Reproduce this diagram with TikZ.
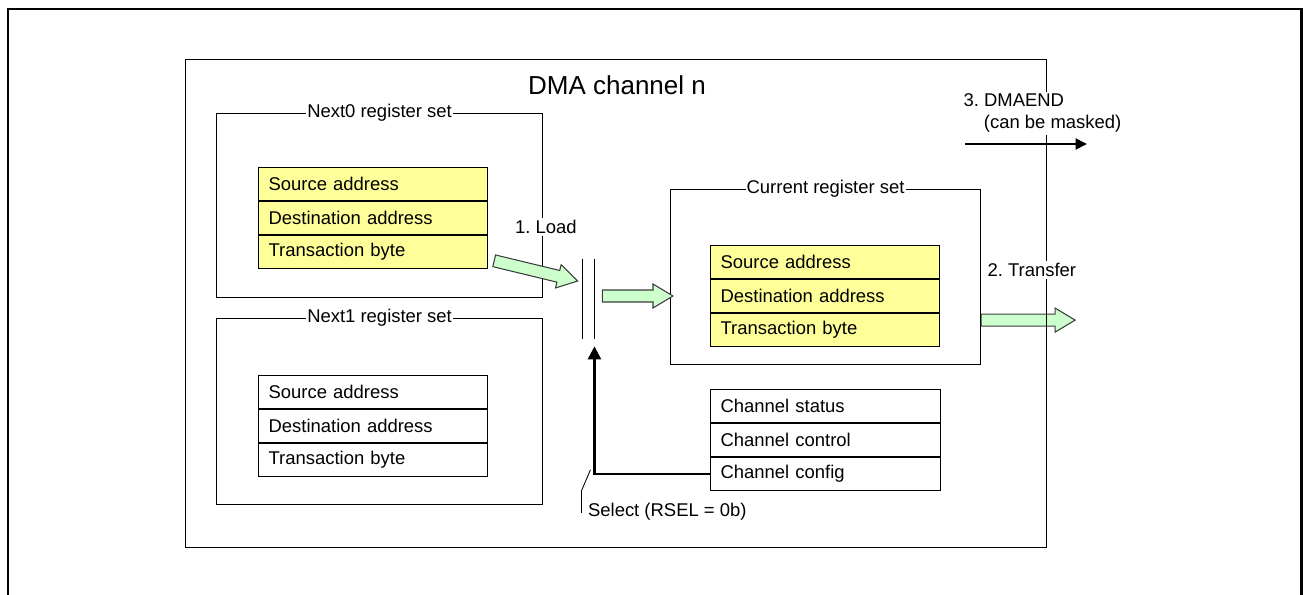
\documentclass[tikz,border=0pt]{standalone}
\usepackage{fontspec}
\setmainfont{Liberation Sans}
\usetikzlibrary{
  arrows.meta,
  positioning,
  calc,
  backgrounds
}
\definecolor{DMAYellow}{HTML}{FFFF99}
\definecolor{DMAGreen}{HTML}{CCFFCC}
\definecolor{DMAEdge}{HTML}{3C3C3C}
\newcommand{\regfont}{\fontsize{10.5}{12.6}\selectfont}
\newcommand{\titlefont}{\fontsize{14.8}{17.8}\selectfont}
\frenchspacing
\tikzset{
  setbox/.style={
    draw,
    line width=0.7pt,
    inner sep=0pt,
    anchor=north west
  },
  settag/.style={
    fill=white,
    inner xsep=0.6pt,
    inner ysep=1pt
  },
  regrow/.style={
    draw,
    line width=0.7pt,
    fill=DMAYellow,
    text width=4.18cm,
    inner xsep=0.2cm,
    inner ysep=0pt,
    minimum height=0.654cm,
    align=left
  },
  plainrow/.style={regrow,fill=white},
  steptag/.style={
    fill=white,
    inner sep=1pt,
    align=left
  },
  loadarrow/.style={
    draw=DMAEdge,
    fill=DMAGreen,
    line width=0.6pt
  },
  selarrow/.style={
    -{Triangle[length=0.26cm,width=0.26cm]},
    line width=1.4pt
  },
  endarrow/.style={
    -{Triangle[length=0.23cm,width=0.22cm]},
    line width=1.1pt
  },
  callout/.style={line width=0.5pt},
  switchline/.style={line width=0.6pt}
}
\newcommand{\fatarrow}[2]{%
  \coordinate (fa-s) at #1;
  \coordinate (fa-t) at #2;
  \coordinate (fa-h) at ($(fa-t)!0.4cm!(fa-s)$);
  \draw[loadarrow]
    ($(fa-s)!0.12cm!90:(fa-t)$) -- ($(fa-h)!0.12cm!90:(fa-t)$)
    -- ($(fa-h)!0.24cm!90:(fa-t)$) -- (fa-t)
    -- ($(fa-h)!0.24cm!-90:(fa-t)$) -- ($(fa-h)!0.12cm!-90:(fa-t)$)
    -- ($(fa-s)!0.12cm!-90:(fa-t)$) -- cycle;
}

\begin{document}
\frenchspacing
\begin{tikzpicture}[x=0.02cm,y=-0.02cm,font=\regfont]
  \useasboundingbox (0,0) rectangle (1303,595);
  \draw[line width=1.7pt] (8,595) -- (8,9) -- (1301,9) -- (1301,595);

  \node[setbox,minimum width=17.22cm,minimum height=9.76cm] (dma) at (185,59) {};
  \node[font=\titlefont] (title) at (617,85) {DMA channel n};

  % Next0
  \node[setbox,minimum width=6.52cm,minimum height=3.68cm] (next0) at (216,113) {};
  \node[settag] (next0tag) at (next0.north) {Next0 register set};
  \node[regrow,anchor=north west] (n0s) at (258,167) {Source address};
  \node[regrow,below=0pt of n0s] (n0d) {Destination address};
  \node[regrow,below=0pt of n0d] (n0t) {Transaction byte};

  % Next1
  \node[setbox,minimum width=6.52cm,minimum height=3.72cm] (next1) at (216,318) {};
  \node[settag] (next1tag) at (next1.north) {Next1 register set};
  \node[plainrow,anchor=north west] (n1s) at (258,375) {Source address};
  \node[plainrow,below=0pt of n1s] (n1d) {Destination address};
  \node[plainrow,below=0pt of n1d] (n1t) {Transaction byte};

  % Current
  \node[setbox,minimum width=6.2cm,minimum height=3.5cm] (cur) at (670,189) {};
  \node[settag] (curtag) at (cur.north) {Current register set};
  \node[regrow,anchor=north west] (cs) at (710,245) {Source address};
  \node[regrow,below=0pt of cs] (cd) {Destination address};
  \node[regrow,below=0pt of cd] (ct) {Transaction byte};

  % channel registers
  \node[plainrow,text width=4.2cm,anchor=north west] (cst) at (710,389) {Channel status};
  \node[plainrow,text width=4.2cm,below=0pt of cst] (cct) {Channel control};
  \node[plainrow,text width=4.2cm,below=0pt of cct] (ccf) {Channel config};

  % register select switch
  \node[minimum width=0.22cm,minimum height=1.6cm,inner sep=0pt] (sw) at (588.6,299) {};
  \draw[switchline] (sw.north west) -- (sw.south west);
  \draw[switchline] (sw.north east) -- (sw.south east);

  \fatarrow{($(n0t.east)+(6,9)$)}{($(sw.west)+(-5,-18)$)}
  \coordinate (ld2) at ($(sw.east)+(8,-3)$);
  \fatarrow{(ld2)}{($(cur.west |- ld2)+(3,0)$)}
  \begin{scope}[on background layer]
    \coordinate (xferend) at ($(cur.east)+(94,43)$);
    \fatarrow{($(cur.east)+(0,43)$)}{(xferend)}
  \end{scope}

  \node[steptag,anchor=west] (load) at (513,227) {1. Load};
  \node[steptag,anchor=west] (xfer) at (985.5,270) {2. Transfer};
  \node[steptag,anchor=north west,font=\fontsize{10.5}{12.5}\selectfont]
    (dmaend) at (961.5,92) {3. DMAEND\\\hspace*{1.1em}(can be masked)};
  \coordinate (endL) at (965,144);
  \coordinate (endR) at (1087,144);
  \draw[endarrow] (endL) -- (endR);

  \draw[selarrow] (ccf.west) -| ($(sw.south east)+(0,7)$);
  \coordinate (selk) at ($(sw.south east |- ccf.west)+(-4,-4)$);
  \node[anchor=west,inner sep=1pt] (sel) at (586,512) {Select (RSEL = 0b)};
  \draw[callout] (selk) -- ++(-9,21) -- ++(0,22);
\end{tikzpicture}
\end{document}
